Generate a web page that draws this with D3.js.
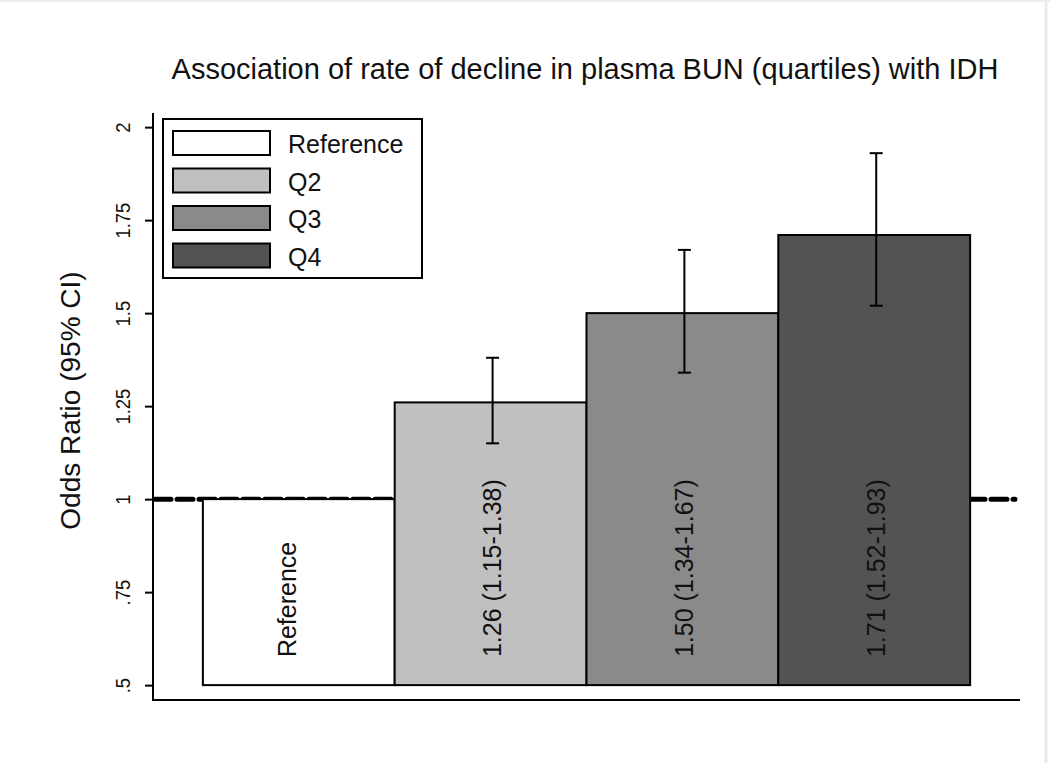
<!DOCTYPE html>
<html>
<head>
<meta charset="utf-8">
<script src="https://cdn.jsdelivr.net/npm/d3@7"></script>
<style>
  html, body { margin: 0; padding: 0; background: #ffffff; }
  svg { display: block; }
  text { font-family: "Liberation Sans", Arial, sans-serif; fill: #111; }
</style>
</head>
<body>
<svg id="chart" width="1050" height="763"></svg>
<script>
// ---- data ----
const categories = ["Reference", "Q2", "Q3", "Q4"];
const oddsRatios = [1.00, 1.26, 1.50, 1.71];
const ciLower = [null, 1.15, 1.34, 1.52];
const ciUpper = [null, 1.38, 1.67, 1.93];
const barLabels = ["Reference", "1.26 (1.15-1.38)", "1.50 (1.34-1.67)", "1.71 (1.52-1.93)"];
const fills = ["#ffffff", "#c0c0c0", "#8a8a8a", "#535353"];
const tickValues = [0.5, 0.75, 1, 1.25, 1.5, 1.75, 2];
const tickLabels = [".5", ".75", "1", "1.25", "1.5", "1.75", "2"];
const titleText = "Association of rate of decline in plasma BUN (quartiles) with IDH";
const yAxisTitle = "Odds Ratio (95% CI)";
const referenceValue = 1;
const baseValue = 0.5;

const svg = d3.select("#chart");

// faint image border
svg.append("line").attr("x1", 0).attr("x2", 1050).attr("y1", 1).attr("y2", 1)
  .attr("stroke", "#ececec").attr("stroke-width", 2);
svg.append("line").attr("x1", 1046).attr("x2", 1046).attr("y1", 0).attr("y2", 763)
  .attr("stroke", "#ececec").attr("stroke-width", 3);

const x = d3.scaleBand().domain(categories).range([153, 1020])
  .paddingInner(0).paddingOuter(0.26);
const y = d3.scaleLinear().domain([0.46, 2.038]).range([700, 113]);

const data = categories.map((c, i) => ({
  cat: c, or: oddsRatios[i], lo: ciLower[i], hi: ciUpper[i],
  label: barLabels[i], fill: fills[i]
}));

// title
svg.append("text")
  .attr("x", 585).attr("y", 79)
  .attr("text-anchor", "middle")
  .style("font-size", "29px")
  .text(titleText);

// reference dashed line (behind bars)
svg.append("line")
  .attr("x1", 155).attr("x2", 1015)
  .attr("y1", y(referenceValue)).attr("y2", y(referenceValue))
  .attr("stroke", "#000").attr("stroke-width", 5)
  .attr("stroke-dasharray", "16,6").attr("stroke-linecap", "round");

// bars
svg.append("g").selectAll("rect").data(data).join("rect")
  .attr("x", d => x(d.cat))
  .attr("width", x.bandwidth())
  .attr("y", d => y(d.or))
  .attr("height", d => y(baseValue) - y(d.or))
  .attr("fill", d => d.fill)
  .attr("stroke", "#000").attr("stroke-width", 2);

// error bars
const eb = svg.append("g").selectAll("g").data(data.filter(d => d.lo != null)).join("g");
eb.append("line")
  .attr("x1", d => x(d.cat) + x.bandwidth() / 2 + 2)
  .attr("x2", d => x(d.cat) + x.bandwidth() / 2 + 2)
  .attr("y1", d => y(d.lo)).attr("y2", d => y(d.hi))
  .attr("stroke", "#000").attr("stroke-width", 2);
["lo", "hi"].forEach(k => {
  eb.append("line")
    .attr("x1", d => x(d.cat) + x.bandwidth() / 2 + 2 - 6.5)
    .attr("x2", d => x(d.cat) + x.bandwidth() / 2 + 2 + 6.5)
    .attr("y1", d => y(d[k])).attr("y2", d => y(d[k]))
    .attr("stroke", "#000").attr("stroke-width", 2);
});

// bar labels (rotated)
svg.append("g").selectAll("text").data(data).join("text")
  .attr("transform", d => {
    const cx = x(d.cat) + x.bandwidth() / 2 + (d.cat === "Reference" ? -12 : 2);
    return `translate(${cx},${y(baseValue) - 28}) rotate(-90)`;
  })
  .attr("text-anchor", "start")
  .attr("dy", "0.35em")
  .style("font-size", "25px")
  .text(d => d.label);

// y axis
const yAxis = d3.axisLeft(y).tickValues(tickValues)
  .tickFormat((d, i) => tickLabels[i]).tickSize(8).tickPadding(6);
const gy = svg.append("g").attr("transform", "translate(153,0)").call(yAxis);
gy.attr("font-size", null).attr("font-family", null);
gy.select(".domain").remove();
gy.selectAll(".tick line").attr("stroke", "#000").attr("stroke-width", 2);
gy.selectAll(".tick text")
  .style("font-size", "21px")
  .style("font-family", "'Liberation Sans', Arial, sans-serif")
  .attr("fill", "#111")
  .attr("x", null).attr("dy", null)
  .attr("text-anchor", "middle")
  .attr("transform", "translate(-23,0) rotate(-90) scale(0.88,1)");
svg.append("line")
  .attr("x1", 153).attr("x2", 153).attr("y1", y.range()[1]).attr("y2", y.range()[0] + 1)
  .attr("stroke", "#000").attr("stroke-width", 2);

// x axis line
svg.append("line")
  .attr("x1", 152).attr("x2", 1020).attr("y1", y.range()[0]).attr("y2", y.range()[0])
  .attr("stroke", "#000").attr("stroke-width", 2);

// y axis title
svg.append("text")
  .attr("transform", `translate(80,${(y.range()[0] + y.range()[1]) / 2 - 6}) rotate(-90)`)
  .attr("text-anchor", "middle")
  .style("font-size", "28px")
  .text(yAxisTitle);

// legend
const lg = svg.append("g").attr("transform", "translate(163,119)");
lg.append("rect").attr("width", 259).attr("height", 159)
  .attr("fill", "#fff").attr("stroke", "#000").attr("stroke-width", 2);
const items = lg.selectAll("g.item").data(data).join("g")
  .attr("class", "item")
  .attr("transform", (d, i) => `translate(10,${12 + i * 37.5})`);
items.append("rect").attr("width", 97).attr("height", 24)
  .attr("fill", d => d.fill).attr("stroke", "#000").attr("stroke-width", 2);
items.append("text").attr("x", 115).attr("y", 22)
  .style("font-size", "25px")
  .text(d => d.cat);
</script>
</body>
</html>
